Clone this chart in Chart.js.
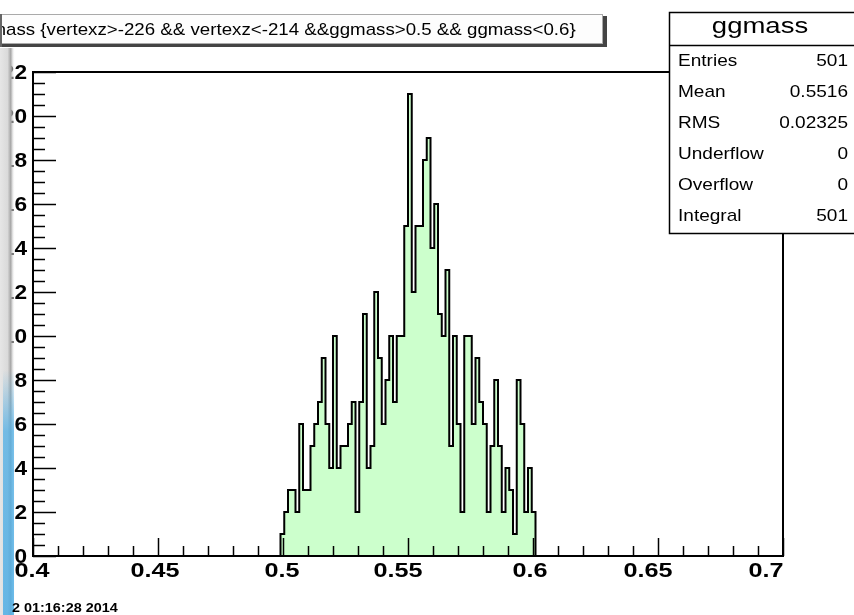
<!DOCTYPE html>
<html>
<head>
<meta charset="utf-8">
<script src="https://cdn.jsdelivr.net/npm/chart.js@4.4.1/dist/chart.umd.min.js"></script>
<style>
  html, body { margin: 0; padding: 0; background: #fff; }
  #wrap { width: 854px; height: 615px; }
</style>
</head>
<body>
<div id="wrap"><canvas id="ggmassChart" width="854" height="615"></canvas></div>
<script>
// histogram ggmass : 200 bins from 0.4 to 0.7, filled bins start at bin 66
const nBins = 200;
const xLow = 0.4;
const xHigh = 0.7;
const firstFilledBin = 66;

// counts per bin (bin 66 .. bin 133)
const binCounts = [
  1, 2, 3, 3, 2, 6, 3, 3, 5, 6,
  7, 9, 6, 4, 10, 4, 5, 5, 6, 7,
  2, 7, 11, 4, 5, 12, 9, 6, 8, 10,
  7, 10, 10, 15, 21, 12, 15, 15, 18, 19,
  14, 16, 11, 10, 13, 5, 10, 6, 2, 10,
  10, 6, 9, 7, 6, 2, 5, 8, 5, 2,
  4, 3, 1, 8, 6, 2, 4, 2
];

const xTickLabels = [0.4, 0.45, 0.5, 0.55, 0.6, 0.65, 0.7];
const yTickLabels = [0, 2, 4, 6, 8, 10, 12, 14, 16, 18, 20, 22];

const titleText = 'ggmass {vertexz>-226 && vertexz<-214 &&ggmass>0.5 && ggmass<0.6}';
const statsTitle = 'ggmass';
const statsNames = ['Entries', 'Mean', 'RMS', 'Underflow', 'Overflow', 'Integral'];
const statsValues = ['501', '0.5516', '0.02325', '0', '0', '501'];
const dateText = '2 01:16:28 2014';

const binWidth = (xHigh - xLow) / nBins;
const edge = k => xLow + (firstFilledBin + k) * binWidth;

const histPoints = [{ x: edge(0), y: 0 }];
binCounts.forEach((v, k) => histPoints.push({ x: edge(k), y: v }));
histPoints.push({ x: edge(binCounts.length), y: 0 });

function stretchedText(ctx, text, x, y, font, align, sx) {
  ctx.save();
  ctx.font = font;
  ctx.textAlign = align;
  ctx.translate(x, y);
  ctx.scale(sx, 1);
  ctx.fillText(text, 0, 0);
  ctx.restore();
}

const rootDecor = {
  id: 'rootDecor',
  beforeDraw(chart) {
    const ctx = chart.ctx;
    ctx.save();
    ctx.fillStyle = '#ffffff';
    ctx.fillRect(0, 0, chart.width, chart.height);
    ctx.restore();
  },
  afterDatasetsDraw(chart) {
    const ctx = chart.ctx;
    const a = chart.chartArea;
    const xs = chart.scales.x;
    const ys = chart.scales.y;
    ctx.save();
    ctx.strokeStyle = '#000';

    // y ticks (inside the frame)
    ctx.lineWidth = 1.5;
    for (let i = 0; i <= 44; i++) {
      const v = i * 0.5;
      const py = Math.round(ys.getPixelForValue(v)) + 0.5;
      const len = i % 4 === 0 ? 23 : 12;
      ctx.beginPath();
      ctx.moveTo(a.left, py);
      ctx.lineTo(a.left + len, py);
      ctx.stroke();
    }
    // x ticks
    for (let i = 0; i <= 30; i++) {
      const v = xLow + i * 0.01;
      const px = Math.round(xs.getPixelForValue(v)) + 0.5;
      const len = i % 5 === 0 ? 18 : 10;
      ctx.beginPath();
      ctx.moveTo(px, a.bottom);
      ctx.lineTo(px, a.bottom - len);
      ctx.stroke();
    }
    // frame
    ctx.lineWidth = 2;
    ctx.strokeRect(a.left, a.top, a.right - a.left, a.bottom - a.top);

    // tick labels
    ctx.fillStyle = '#000';
    ctx.textBaseline = 'middle';
    yTickLabels.forEach(v => {
      stretchedText(ctx, String(v), 27, ys.getPixelForValue(v) + 1, 'bold 21px "Liberation Sans", Arial, sans-serif', 'right', 1.08);
    });
    ctx.textBaseline = 'top';
    const labelShift = [-1, -3, -1, -10, -3, -10, -17];
    xTickLabels.forEach((v, i) => {
      stretchedText(ctx, String(v), xs.getPixelForValue(v) + labelShift[i], 561, 'bold 21px "Liberation Sans", Arial, sans-serif', 'center', 1.2);
    });
    ctx.restore();
  },
  afterDraw(chart) {
    const ctx = chart.ctx;
    ctx.save();

    // title box
    ctx.fillStyle = '#444';
    ctx.fillRect(0, 16, 607, 31);
    ctx.fillStyle = '#fdfdfd';
    ctx.fillRect(0, 14, 603, 30);
    ctx.strokeStyle = '#aaa';
    ctx.lineWidth = 1;
    ctx.strokeRect(-2.5, 14.5, 605, 29);
    ctx.fillStyle = '#000';
    ctx.textBaseline = 'middle';
    ctx.font = '17px "Liberation Sans", Arial, sans-serif';
    const skip = ctx.measureText('ggm').width;
    stretchedText(ctx, titleText, 6 - skip * 1.1, 30, '17px "Liberation Sans", Arial, sans-serif', 'left', 1.1);

    // stats box
    ctx.fillStyle = '#ffffff';
    ctx.fillRect(669, 12, 190, 222);
    ctx.strokeStyle = '#000';
    ctx.lineWidth = 1.5;
    ctx.strokeRect(669.5, 12.5, 200, 221);
    ctx.beginPath();
    ctx.moveTo(669, 45.5);
    ctx.lineTo(854, 45.5);
    ctx.stroke();
    ctx.fillStyle = '#000';
    stretchedText(ctx, statsTitle, 760, 27, '22px "Liberation Sans", Arial, sans-serif', 'center', 1.25);
    statsNames.forEach((name, i) => {
      const y = 61 + i * 31;
      stretchedText(ctx, name, 678, y, '17px "Liberation Sans", Arial, sans-serif', 'left', 1.12);
      stretchedText(ctx, statsValues[i], 848, y, '17px "Liberation Sans", Arial, sans-serif', 'right', 1.12);
    });

    // window edge strip on the left
    let g = ctx.createLinearGradient(0, 0, 15, 0);
    g.addColorStop(0, 'rgba(230,230,230,1)');
    g.addColorStop(0.5, 'rgba(218,218,218,1)');
    g.addColorStop(0.72, 'rgba(165,165,165,1)');
    g.addColorStop(1, 'rgba(255,255,255,0)');
    ctx.fillStyle = g;
    ctx.fillRect(0, 48, 15, 567);
    g = ctx.createLinearGradient(0, 370, 0, 615);
    g.addColorStop(0, 'rgba(80,175,230,0)');
    g.addColorStop(0.25, 'rgba(80,175,230,0.75)');
    g.addColorStop(1, 'rgba(80,175,230,0.85)');
    ctx.fillStyle = g;
    ctx.fillRect(3, 370, 11, 245);
    ctx.fillStyle = '#666';
    ctx.fillRect(0, 14, 2, 33);

    // date stamp
    ctx.fillStyle = '#000';
    ctx.textBaseline = 'alphabetic';
    stretchedText(ctx, dateText, 12, 612, 'bold 12px "Liberation Sans", Arial, sans-serif', 'left', 1.2);
    ctx.restore();
  }
};

new Chart(
  document.getElementById('ggmassChart'),
  {
    type: 'line',
    data: {
      datasets: [{
        label: 'ggmass',
        data: histPoints,
        stepped: true,
        borderColor: '#000000',
        borderWidth: 2,
        backgroundColor: '#ccffcc',
        fill: 'origin',
        pointRadius: 0,
        tension: 0
      }]
    },
    options: {
      responsive: false,
      animation: false,
      devicePixelRatio: 1,
      layout: { padding: { left: 33, right: 71, top: 72, bottom: 59 } },
      plugins: { legend: { display: false }, tooltip: { enabled: false } },
      scales: {
        x: { type: 'linear', min: xLow, max: xHigh, display: false },
        y: { type: 'linear', min: 0, max: 22, display: false }
      }
    },
    plugins: [rootDecor]
  }
);
</script>
</body>
</html>
